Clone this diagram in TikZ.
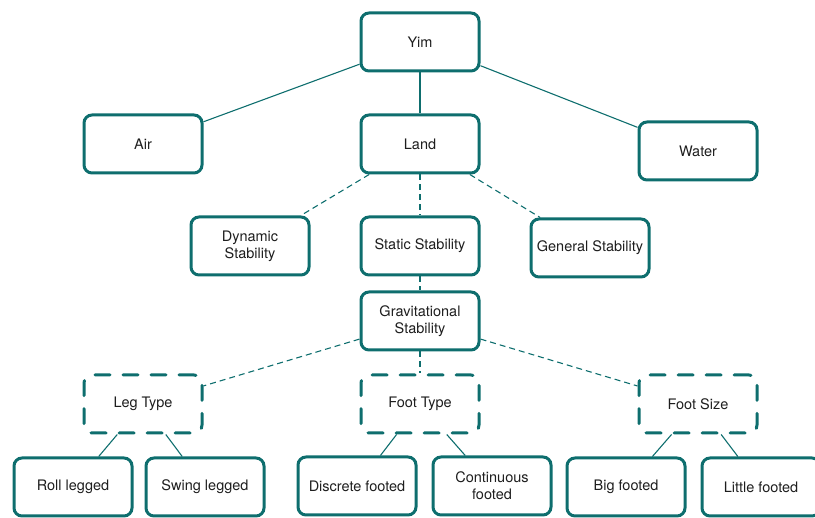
\documentclass[tikz,border=0pt]{standalone}
\usepackage{fontspec}
\setmainfont{TeX Gyre Heros}
\usepackage{tikz}
\usetikzlibrary{positioning}
\definecolor{tealline}{RGB}{14,110,110}
\definecolor{textgray}{RGB}{30,30,30}
\tikzset{
  catbox/.style={rectangle,rounded corners=8pt,draw=tealline,line width=3pt,fill=white,
    minimum width=118pt,minimum height=58pt,align=center,text=textgray,
    font=\fontsize{14.5}{17}\selectfont},
  groupbox/.style={catbox,dash pattern=on 15pt off 13pt,line cap=round},
  solidlink/.style={draw=tealline,line width=1.1pt},
  dashlink/.style={solidlink,dash pattern=on 6pt off 4pt}
}
\begin{document}
\begin{tikzpicture}[on grid]
  \useasboundingbox (0pt,0pt) rectangle (815pt,-518pt);

  %% Root and the three media
  \node[catbox] (yim) at (420pt,-42pt) {Yim};
  \node[catbox,below=102pt of yim] (land) {Land};
  \node[catbox,left=277pt of land] (air) {Air};
  \node[catbox,below right=7pt and 278pt of land] (water) {Water};

  %% Stability kinds under Land
  \node[catbox,below=102pt of land] (static) {Static Stability};
  \node[catbox,left=170pt of static] (dynamic) {Dynamic\\Stability};
  \node[catbox,below right=2pt and 170pt of static] (general) {General Stability};
  \node[catbox,below=75pt of static] (grav) {Gravitational\\Stability};

  %% Grouping boxes (dashed)
  \node[groupbox,below=83pt of grav] (foottype) {Foot Type};
  \node[groupbox,left=277pt of foottype] (legtype) {Leg Type};
  \node[groupbox,right=278pt of foottype] (footsize) {Foot Size};

  %% Leaves
  \node[catbox,below left=83pt and 70pt of legtype] (roll) {Roll legged};
  \node[catbox,below right=83pt and 62pt of legtype] (swing) {Swing legged};
  \node[catbox,below left=82pt and 63pt of foottype] (discrete) {Discrete footed};
  \node[catbox,below right=82pt and 72pt of foottype] (continuous) {Continuous\\footed};
  \node[catbox,below left=83pt and 72pt of footsize] (big) {Big footed};
  \node[catbox,below right=83pt and 63pt of footsize] (little) {Little footed};

  %% Connectors
  \draw[solidlink] (yim) -- (air);
  \draw[solidlink] (yim) -- (land);
  \draw[solidlink] (yim) -- (water);
  \draw[dashlink] (land) -- (dynamic);
  \draw[dashlink] (land) -- (static);
  \draw[dashlink] (land) -- (general);
  \draw[dashlink] (static) -- (grav);
  \draw[dashlink] (grav) -- (legtype);
  \draw[dashlink] (grav) -- (foottype);
  \draw[dashlink] (grav) -- (footsize);
  \draw[solidlink] (legtype) -- (roll);
  \draw[solidlink] (legtype) -- (swing);
  \draw[solidlink] (foottype) -- (discrete);
  \draw[solidlink] (foottype) -- (continuous);
  \draw[solidlink] (footsize) -- (big);
  \draw[solidlink] (footsize) -- (little);
\end{tikzpicture}
\end{document}
